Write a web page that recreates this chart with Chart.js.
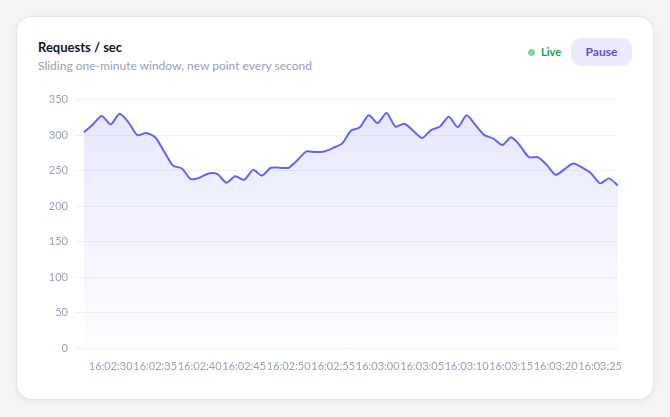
<!DOCTYPE html>
<html><head><meta charset="utf-8">
<script src="https://cdn.jsdelivr.net/npm/chart.js@4"></script>
<style>
body{margin:0;background:#f3f4f6;font-family:Lato,"Noto Sans",sans-serif;width:670px;height:417px;overflow:hidden}
.card{position:absolute;left:16px;top:16px;width:636px;height:382px;background:#fff;border:1px solid #e5e7eb;border-radius:16px;box-shadow:0 2px 6px rgba(0,0,0,0.06)}
.t{position:absolute;left:38px;top:39px;font-size:13px;font-weight:700;color:#0f172a}
.s{position:absolute;left:38px;top:58px;font-size:12px;color:#94a3b8}
.live{position:absolute;left:528px;top:45px;font-size:11px;font-weight:700;color:#16a34a}
.live:before{content:"";display:inline-block;width:7px;height:7px;border-radius:50%;background:#86d4a0;margin-right:6px;vertical-align:0}
.btn{position:absolute;left:571px;top:38px;width:61px;height:28px;border-radius:10px;background:#ede9fe;color:#5b50d6;font-size:12px;font-weight:700;text-align:center;line-height:28px}
#w{position:absolute;left:30px;top:85px;width:596px;height:287px}
</style></head><body>
<div class="card"></div>
<div class="t">Requests / sec</div>
<div class="s">Sliding one-minute window, new point every second</div>
<div class="live">Live</div>
<div class="btn">Pause</div>
<div id="w"><canvas id="c"></canvas></div>
<script>
const startSec = 27; // 16:02:27
const values = [304,315,327,315,330,318,300,303,297,277,257,253,238,240,246,245,233,242,237,251,243,254,254,254,265,277,276,277,282,288,306,311,328,317,331,312,316,306,296,307,312,326,311,328,314,300,295,286,297,285,269,269,258,244,252,260,254,246,232,239,229];
const labels = values.map((_, i) => {
  const t = 2*60 + startSec + i; const m = Math.floor(t/60), s = t%60;
  return `16:0${m}:${String(s).padStart(2,'0')}`;
});
const yTicks = [0,50,100,150,200,250,300,350];
const ctx = document.getElementById('c');
new Chart(ctx, {
  type: 'line',
  data: { labels, datasets: [{ data: values, borderColor: '#6366f1', borderWidth: 2, pointRadius: 0, tension: 0.25, fill: true,
    backgroundColor: (c) => { const a = c.chart.chartArea; if (!a) return 'rgba(99,102,241,0.12)';
      const g = c.chart.ctx.createLinearGradient(0, a.top, 0, a.bottom);
      g.addColorStop(0, 'rgba(99,102,241,0.16)'); g.addColorStop(1, 'rgba(99,102,241,0.01)'); return g; } }] },
  options: { responsive: true, maintainAspectRatio: false, animation: false,
    layout: { padding: { top: 6, right: 0, left: 0, bottom: 0 } },
    plugins: { legend: { display: false }, tooltip: { enabled: false } },
    scales: {
      x: { grid: { display: false }, border: { display: false },
        afterFit: (s) => { s.height = 24; },
        ticks: { autoSkip: false, maxRotation: 0, color: '#94a3b8', font: { size: 11, family: 'Lato' }, padding: 4,
          callback: function(v, i) { const l = labels[i]; return l.endsWith('0') || l.endsWith('5') ? l : null; } } },
      y: { min: 0, max: 350, afterFit: (s) => { s.width = 54; },
        afterBuildTicks: (s) => { s.ticks = yTicks.map(v => ({ value: v })); },
        grid: { color: '#f1f2f6' }, border: { display: false },
        ticks: { color: '#94a3b8', font: { size: 11, family: 'Lato' }, padding: 8 } }
    } }
});
</script></body></html>
